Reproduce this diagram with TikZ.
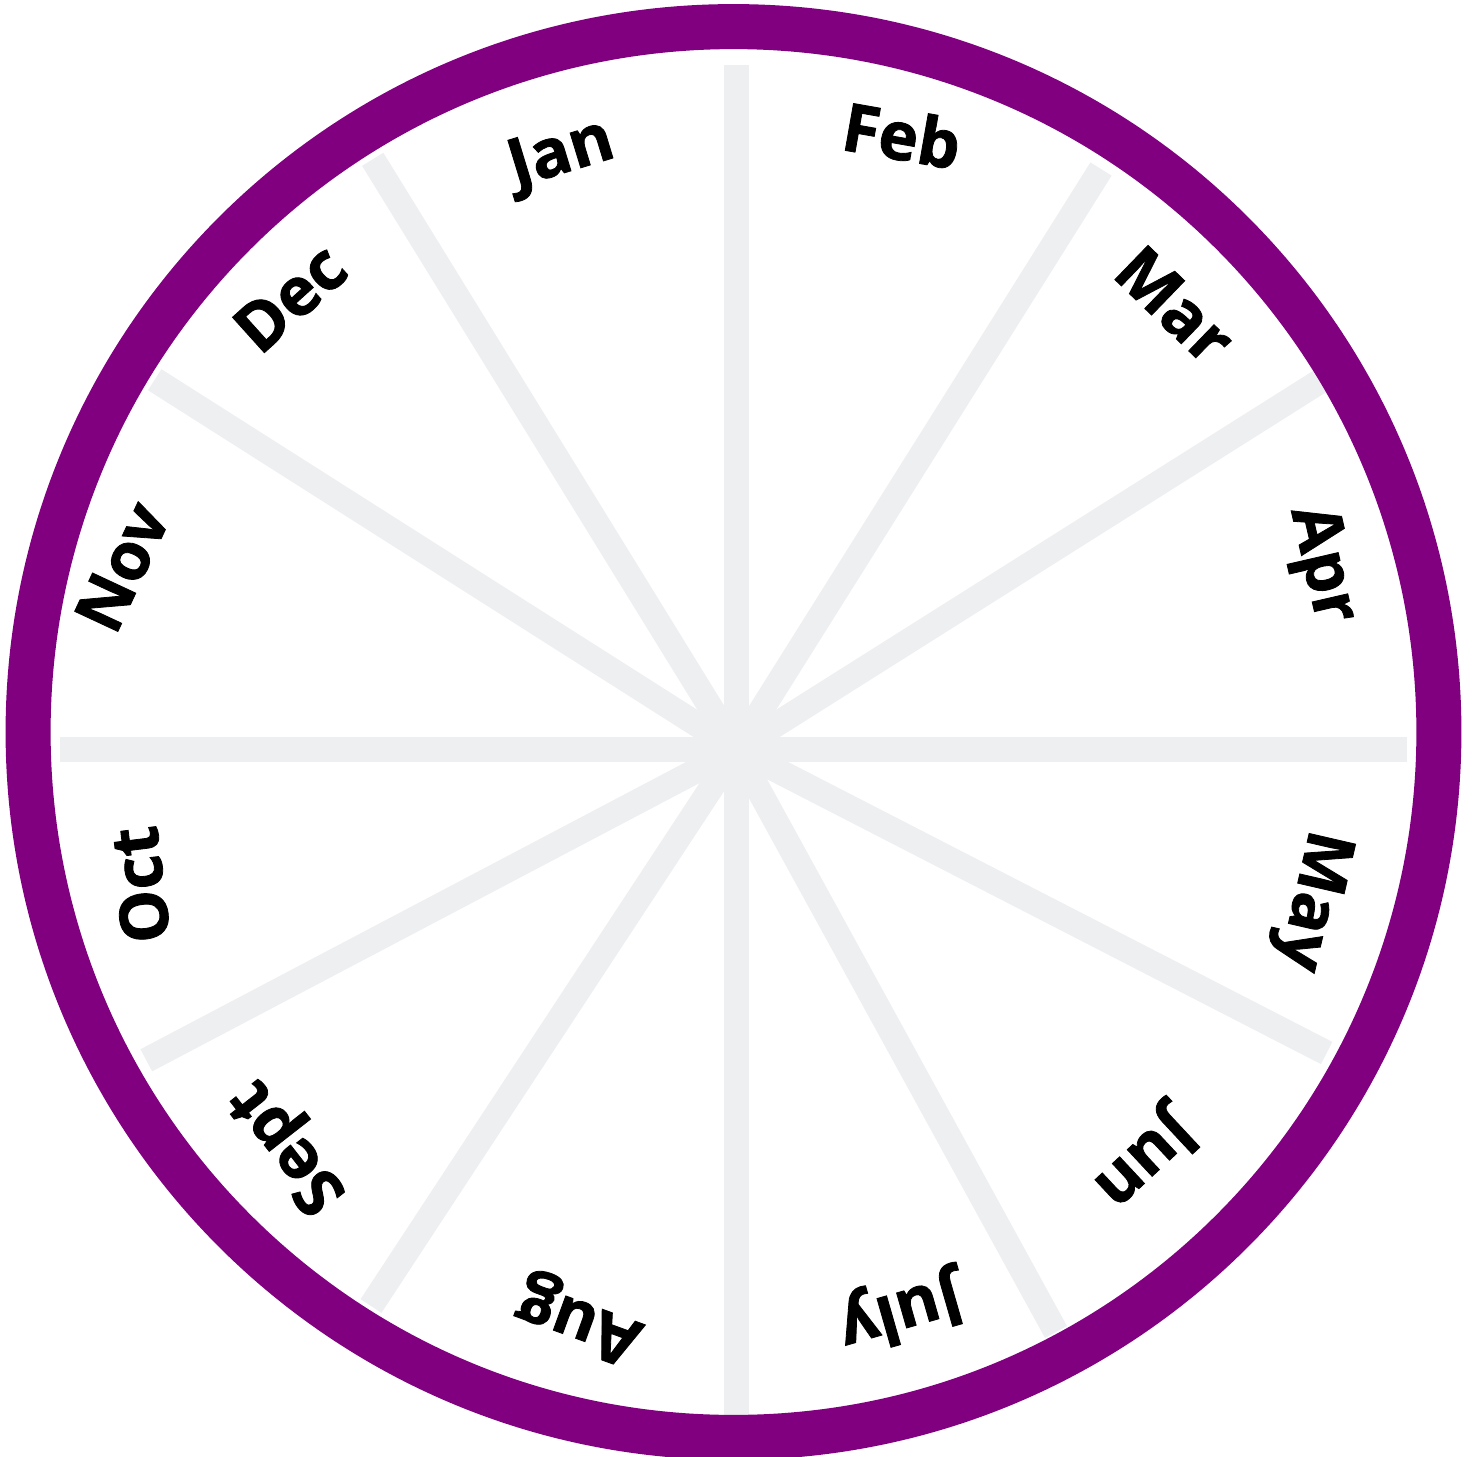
\documentclass[tikz,border=0pt]{standalone}
\usepackage{fontspec}
\setmainfont{Open Sans}[BoldFeatures={FakeBold=1.2}]
\usepackage{tikz}
\usetikzlibrary{positioning}

\definecolor{wheelpurple}{RGB}{128,0,128}
\definecolor{spokegray}{RGB}{238,239,241}

\begin{document}
\begin{tikzpicture}[x=0.01cm, y=-0.01cm,
    spoke/.style={draw=spokegray, line width=0.25cm},
    wheelrim/.style={draw=wheelpurple, line width=0.45cm},
    month/.style={font=\fontsize{19}{19}\selectfont\bfseries, inner sep=0pt}
]
    \useasboundingbox (0,0) rectangle (1472,1457);

    % spokes
    \coordinate (hub) at (736.5,749.5);
    \coordinate (sN)  at (736.5,65);
    \coordinate (sJD) at (372.7,159.3);
    \coordinate (sFM) at (1101,169);
    \coordinate (sMA) at (1322,380);
    \coordinate (sE)  at (1407,749.5);
    \coordinate (sMJ) at (1326.7,1053);
    \coordinate (sJJ) at (1056,1332);
    \coordinate (sS)  at (736.5,1420);
    \coordinate (sAS) at (371,1306);
    \coordinate (sSO) at (146.3,1060.3);
    \coordinate (sW)  at (60,749.5);
    \coordinate (sND) at (154.7,379.7);
    \foreach \s in {sN,sJD,sFM,sMA,sE,sMJ,sJJ,sS,sAS,sSO,sW,sND}
        \draw[spoke] (hub) -- (\s);

    % rim
    \draw[wheelrim] (733.5,732) circle[radius=7.05cm];

    % months
    \node[month, rotate=17]   (jan)  at (562,156)  {Jan};
    \node[month, rotate=-10]  (feb)  at (902,135)  {Feb};
    \node[month, rotate=-44]  (mar)  at (1175,305) {Mar};
    \node[month, rotate=-77]  (apr)  at (1320,565) {Apr};
    \node[month, rotate=-103] (may)  at (1310,900) {May};
    \node[month, rotate=-137] (jun)  at (1143,1158) {Jun};
    \node[month, rotate=-164] (jul)  at (900,1310) {July};
    \node[month, rotate=160]  (aug)  at (580,1318) {Aug};
    \node[month, rotate=128]  (sep)  at (290,1145) {Sept};
    \node[month, rotate=97]   (oct)  at (140,885)  {Oct};
    \node[month, rotate=65]   (nov)  at (122,567)  {Nov};
    \node[month, rotate=42]   (dec)  at (290,298)  {Dec};
\end{tikzpicture}
\end{document}
